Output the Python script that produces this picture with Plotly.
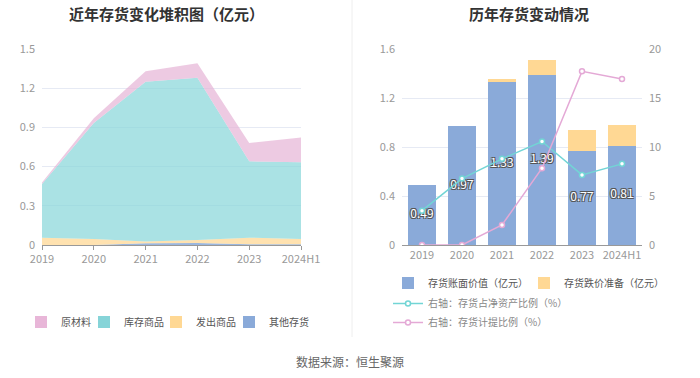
import plotly.graph_objects as go

years = ["2019", "2020", "2021", "2022", "2023", "2024H1"]

# Left chart: stacked inventory composition (亿元)
raw_material = [0.013, 0.037, 0.08, 0.11, 0.14, 0.19]      # 原材料
finished_goods = [0.41, 0.887, 1.224, 1.242, 0.584, 0.587]  # 库存商品
goods_shipped = [0.056, 0.046, 0.013, 0.023, 0.051, 0.041]  # 发出商品
other_inv = [0.0, 0.0, 0.013, 0.015, 0.005, 0.005]          # 其他存货

# Right chart
book_value = [0.49, 0.97, 1.33, 1.39, 0.77, 0.81]           # 存货账面价值
impairment = [0.0, 0.0, 0.027, 0.117, 0.17, 0.168]          # 存货跌价准备
inv_to_net_assets = [3.5, 6.78, 8.79, 10.56, 7.15, 8.28]    # 存货占净资产比例 %
provision_ratio = [0.0, 0.0, 2.04, 7.84, 17.72, 16.93]      # 存货计提比例 %

FONT = "Noto Sans CJK SC"
W, H = 700, 378

def px_y(y):
    return 1 - y / H

def px_x(x):
    return x / W

fig = go.Figure()

# ---- Left stacked area (bottom to top) ----
area_specs = [
    ("其他存货", other_inv, "rgba(138,170,217,0.85)", "#8aaad9", "legend6", 229),
    ("发出商品", goods_shipped, "rgba(255,216,150,0.75)", "#ffd894", "legend5", 156),
    ("库存商品", finished_goods, "rgba(134,213,216,0.7)", "#86d4d8", "legend4", 84),
    ("原材料", raw_material, "rgba(230,180,214,0.7)", "#e8b6d8", "legend", 21),
]
legfont = dict(family=FONT, size=10, color="#555")
left_legends = {}
for name, vals, col, swatch, leg, lx in area_specs:
    fig.add_trace(go.Scatter(
        x=years, y=vals, name=name, stackgroup="one", mode="lines",
        line=dict(width=0, color=col), fillcolor=col,
        xaxis="x", yaxis="y", legendgroup=name, showlegend=False,
        hoverinfo="skip",
    ))
    # legend-only entry (square swatch like the original)
    fig.add_trace(go.Bar(
        x=[years[0]], y=[None], name=name, marker=dict(color=swatch, line=dict(width=0)),
        xaxis="x", yaxis="y", legend=leg, legendgroup=name,
        showlegend=True, hoverinfo="skip",
    ))
    left_legends[leg] = dict(orientation="h", x=px_x(lx), y=px_y(322), xanchor="left",
                             yanchor="middle", font=legfont, itemwidth=30,
                             bgcolor="rgba(0,0,0,0)")

# ---- Right bars ----
fig.add_trace(go.Bar(
    x=years, y=book_value, name="存货账面价值（亿元）",
    marker=dict(color="#8aaad9", line=dict(width=0)), width=0.68,
    xaxis="x2", yaxis="y2", legend="legend2", legendrank=1, hoverinfo="skip",
))
fig.add_trace(go.Bar(
    x=years, y=impairment, name="存货跌价准备（亿元）",
    marker=dict(color="#ffd894", line=dict(width=0)), width=0.68,
    xaxis="x2", yaxis="y2", legend="legend2", legendrank=2, hoverinfo="skip",
))
fig.add_trace(go.Scatter(
    x=years, y=[v / 2 for v in book_value],
    text=[f"{v:.2f}" for v in book_value], mode="text",
    textfont=dict(family=FONT, size=12, color="#ffffff",
                  shadow="-1px -1px 0 #555, 1px -1px 0 #555, -1px 1px 0 #555, 1px 1px 0 #555"),
    xaxis="x2", yaxis="y2", showlegend=False, hoverinfo="skip",
))
fig.add_trace(go.Scatter(
    x=years, y=inv_to_net_assets, name="右轴：存货占净资产比例（%）",
    mode="lines+markers", line=dict(color="#72d5d5", width=1.5),
    marker=dict(symbol="circle", size=5, color="white", line=dict(color="#72d5d5", width=1.5)),
    xaxis="x2", yaxis="y3", legend="legend3", hoverinfo="skip",
))
fig.add_trace(go.Scatter(
    x=years, y=provision_ratio, name="右轴：存货计提比例（%）",
    mode="lines+markers", line=dict(color="#e4a9d6", width=1.5),
    marker=dict(symbol="circle", size=5, color="white", line=dict(color="#e4a9d6", width=1.5)),
    xaxis="x2", yaxis="y3", legend="legend3", hoverinfo="skip",
))

ydom = [px_y(245), px_y(49)]
tickfont = dict(family=FONT, size=11, color="#999")
grid = "#e6eaf4"

fig.update_layout(
    width=W, height=H, margin=dict(l=0, r=0, t=0, b=0, autoexpand=False),
    paper_bgcolor="white", plot_bgcolor="white",
    font=dict(family=FONT),
    barmode="stack",
    hovermode=False,
    xaxis=dict(domain=[px_x(42), px_x(301)], type="category", range=[0, 5],
               categoryorder="array", categoryarray=years,
               showgrid=False, showline=True, linecolor="#999", linewidth=1,
               ticks="outside", ticklen=4, tickcolor="#999", tickfont=tickfont,
               fixedrange=True, automargin=False),
    yaxis=dict(domain=ydom, range=[0, 1.5], tickvals=[0, 0.3, 0.6, 0.9, 1.2, 1.5],
               ticktext=["0", "0.3", "0.6", "0.9", "1.2", "1.5"],
               showgrid=True, gridcolor=grid, zeroline=False, showline=False,
               tickfont=tickfont, ticks="", ticklabelstandoff=6, fixedrange=True,
               automargin=False),
    xaxis2=dict(domain=[px_x(402), px_x(642)], type="category", range=[-0.5, 5.5],
                showgrid=False, showline=True, linecolor="#999", linewidth=1,
                ticks="", tickfont=tickfont, anchor="y2", fixedrange=True, automargin=False),
    yaxis2=dict(domain=ydom, range=[0, 1.6], tickvals=[0, 0.4, 0.8, 1.2, 1.6],
                ticktext=["0", "0.4", "0.8", "1.2", "1.6"], anchor="x2",
                showgrid=True, gridcolor=grid, zeroline=False, showline=False,
                tickfont=tickfont, ticks="", ticklabelstandoff=6, fixedrange=True,
                automargin=False),
    yaxis3=dict(overlaying="y2", side="right", anchor="x2", range=[0, 20],
                tickvals=[0, 5, 10, 15, 20], showgrid=False, zeroline=False,
                showline=False, tickfont=tickfont, ticks="", ticklabelstandoff=6,
                fixedrange=True, automargin=False),
    legend2=dict(orientation="h", x=px_x(388), y=px_y(283), xanchor="left", yanchor="middle",
                 font=legfont, itemwidth=30, entrywidth=91,
                 bgcolor="rgba(0,0,0,0)", traceorder="normal"),
    legend3=dict(orientation="v", x=px_x(388), y=px_y(289), xanchor="left", yanchor="top",
                 font=dict(family=FONT, size=10, color="#888"), itemwidth=30,
                 bgcolor="rgba(0,0,0,0)", tracegroupgap=0),
    shapes=[dict(type="line", xref="paper", yref="paper", x0=px_x(352), x1=px_x(352),
                 y0=px_y(337), y1=1, line=dict(color="#eeeeee", width=1))],
    annotations=[
        dict(text="<b>近年存货变化堆积图（亿元）</b>", x=px_x(166), y=px_y(13),
             xref="paper", yref="paper", showarrow=False, xanchor="center", yanchor="middle",
             font=dict(family=FONT, size=15, color="#333")),
        dict(text="<b>历年存货变动情况</b>", x=px_x(529), y=px_y(13),
             xref="paper", yref="paper", showarrow=False, xanchor="center", yanchor="middle",
             font=dict(family=FONT, size=15, color="#333")),
        dict(text="数据来源：恒生聚源", x=0.5, y=px_y(361),
             xref="paper", yref="paper", showarrow=False, xanchor="center", yanchor="middle",
             font=dict(family=FONT, size=12, color="#666")),
    ],
)
fig.update_layout(**left_legends)

fig.write_html("out.html", config={"displayModeBar": False},
               post_script="document.body.style.margin='0';document.body.style.padding='0';document.body.style.overflow='hidden';")
